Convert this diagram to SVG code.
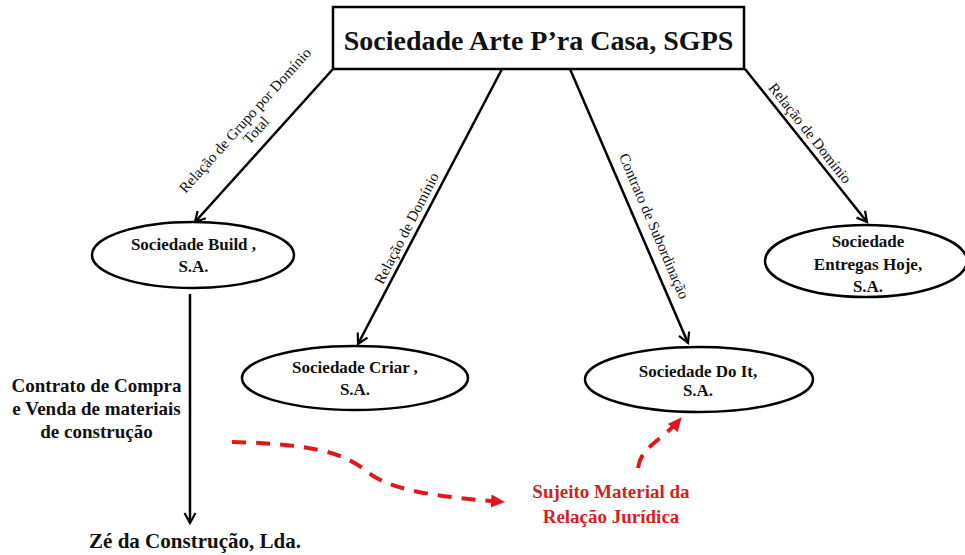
<svg xmlns="http://www.w3.org/2000/svg" width="965" height="555" viewBox="0 0 965 555">
<defs>
<marker id="arr" markerUnits="userSpaceOnUse" markerWidth="16" markerHeight="16" refX="12" refY="7" orient="auto">
<path d="M2,1.5 L12,7 L2,12.5" fill="none" stroke="#000" stroke-width="2.2"/>
</marker>
<marker id="rarr" markerUnits="userSpaceOnUse" markerWidth="16" markerHeight="16" refX="13" refY="7" orient="auto">
<path d="M0,0.5 L14,7 L0,13.5 z" fill="#e3161b"/>
</marker>
<style>
.edge{stroke:#000;stroke-width:2.5;fill:none;marker-end:url(#arr)}
.red{stroke:#e3161b;stroke-width:4;fill:none;stroke-dasharray:14 10;marker-end:url(#rarr)}
.node{fill:#fff;stroke:#000;stroke-width:2.5}
.nt{font-family:"Liberation Serif","Times New Roman",serif;font-weight:bold;font-size:17px;fill:#111;text-anchor:middle}
.lbl{font-family:"Liberation Serif","Times New Roman",serif;font-size:15px;fill:#111;text-anchor:middle}
.big{font-family:"Liberation Serif","Times New Roman",serif;font-weight:bold;fill:#111;text-anchor:middle}
.rt{font-family:"Liberation Serif","Times New Roman",serif;font-weight:bold;font-size:19px;fill:#d21f24;text-anchor:middle}
</style>
</defs>
<rect width="965" height="555" fill="#fff"/>
<g id="connectors">
<path class="edge" d="M333,69 L195,222"/>
<path class="edge" d="M502,69 L358,344"/>
<path class="edge" d="M570,69 L688,343"/>
<path class="edge" d="M745,69 L867,222"/>
<path class="edge" d="M190,294 L190,523"/>
<path class="red" d="M232,442 C320,444 345,455 365,470 C385,487 420,496 504,502"/>
<path class="red" d="M638,468 C641,446 662,441 681,418"/>
<g transform="translate(268,141) rotate(-48)"><text class="lbl" x="0" y="-26">Relação de Grupo por Domínio</text><text class="lbl" x="0" y="-11">Total</text></g>
<g transform="translate(415.4,232.8) rotate(-62.7)"><text class="lbl" x="0" y="-5">Relação de Domínio</text></g>
<g transform="translate(639.7,232.2) rotate(66.9)"><text class="lbl" x="0" y="-10.5">Contrato de Subordinação</text></g>
<g transform="translate(801.3,140) rotate(51.6)"><text class="lbl" x="0" y="-6">Relação de Domínio</text></g>
</g>
<g id="arte">
<rect x="333" y="7" width="411" height="62" fill="#fff" stroke="#000" stroke-width="2.5"/>
<text class="big" x="538.5" y="50" font-size="28">Sociedade Arte P’ra Casa, SGPS</text>
</g>
<g id="build">
<ellipse class="node" cx="193" cy="255" rx="101" ry="33"/>
<text class="nt" x="193.5" y="250">Sociedade Build ,</text>
<text class="nt" x="193.5" y="272">S.A.</text>
</g>
<g id="criar">
<ellipse class="node" cx="355" cy="378" rx="113" ry="32"/>
<text class="nt" x="355" y="373">Sociedade Criar ,</text>
<text class="nt" x="355" y="395">S.A.</text>
</g>
<g id="doit">
<ellipse class="node" cx="699" cy="379.5" rx="114" ry="32.5"/>
<text class="nt" x="698" y="377">Sociedade Do It,</text>
<text class="nt" x="698" y="396">S.A.</text>
</g>
<g id="entregas">
<ellipse class="node" cx="866" cy="261" rx="101" ry="36"/>
<text class="nt" x="868" y="247">Sociedade</text>
<text class="nt" x="868" y="270">Entregas Hoje,</text>
<text class="nt" x="868" y="292">S.A.</text>
</g>
<g id="contrato">
<text class="big" font-size="19" x="96.5" y="392">Contrato de Compra</text>
<text class="big" font-size="19" x="96.5" y="415">e Venda de materiais</text>
<text class="big" font-size="19" x="96.5" y="438">de construção</text>
</g>
<g id="ze">
<text class="big" font-size="21" x="195" y="548">Zé da Construção, Lda.</text>
</g>
<g id="sujeito">
<text class="rt" x="611" y="498">Sujeito Material da</text>
<text class="rt" x="611" y="523">Relação Jurídica</text>
</g>
</svg>
